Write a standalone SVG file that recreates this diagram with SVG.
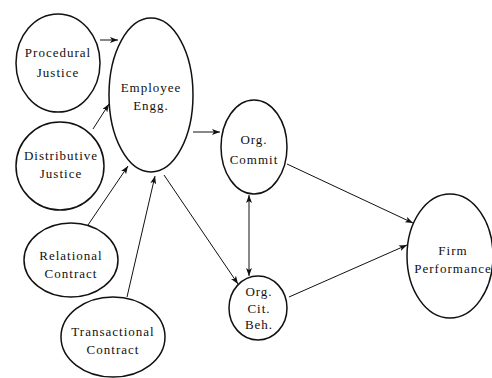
<svg xmlns="http://www.w3.org/2000/svg" width="492" height="378" viewBox="0 0 492 378">
<style>
.n ellipse{fill:#fff;stroke:#111;stroke-width:1.5}
.n text{font-family:"Liberation Serif","Times New Roman",serif;font-size:13px;letter-spacing:1px;fill:#111;text-anchor:middle}
#edges line{stroke:#111;stroke-width:1;fill:none}
</style>
<defs>
<marker id="ah" viewBox="0 0 8 6" refX="8" refY="3" markerWidth="8" markerHeight="6" markerUnits="userSpaceOnUse" orient="auto-start-reverse">
<path d="M0,0 L8,3 L0,6 L2,3 Z" fill="#111"/>
</marker>
</defs>
<rect width="492" height="378" fill="#fff"/>
<g id="edges">
<line x1="100" y1="40" x2="118" y2="40" marker-end="url(#ah)"/>
<line x1="93" y1="129" x2="109" y2="104" marker-end="url(#ah)"/>
<line x1="88" y1="225" x2="128" y2="166" marker-end="url(#ah)"/>
<line x1="127" y1="297" x2="155" y2="176" marker-end="url(#ah)"/>
<line x1="193" y1="132" x2="220" y2="132" marker-end="url(#ah)"/>
<line x1="164" y1="175" x2="238" y2="284" marker-end="url(#ah)"/>
<line x1="249" y1="195" x2="249" y2="276" marker-start="url(#ah)" marker-end="url(#ah)"/>
<line x1="287" y1="164" x2="413" y2="223" marker-end="url(#ah)"/>
<line x1="289" y1="297" x2="407" y2="245" marker-end="url(#ah)"/>
</g>
<g id="procedural" class="n"><ellipse cx="58" cy="63" rx="42" ry="49"/><text x="58" y="57">Procedural</text><text x="58" y="77">Justice</text></g>
<g id="employee" class="n"><ellipse cx="151" cy="95" rx="42" ry="77"/><text x="151" y="92">Employee</text><text x="151" y="110">Engg.</text></g>
<g id="distributive" class="n"><ellipse cx="60" cy="166" rx="44" ry="44"/><text x="61" y="160">Distributive</text><text x="61" y="178">Justice</text></g>
<g id="relational" class="n"><ellipse cx="71" cy="260" rx="47" ry="37"/><text x="71" y="260">Relational</text><text x="71" y="278">Contract</text></g>
<g id="transactional" class="n"><ellipse cx="113" cy="337" rx="52" ry="40"/><text x="113" y="336">Transactional</text><text x="113" y="354">Contract</text></g>
<g id="commit" class="n"><ellipse cx="254" cy="147" rx="33" ry="47"/><text x="254" y="144">Org.</text><text x="254" y="164">Commit</text></g>
<g id="ocb" class="n"><ellipse cx="258" cy="308" rx="29" ry="32"/><text x="259" y="296">Org.</text><text x="259" y="313">Cit.</text><text x="259" y="329">Beh.</text></g>
<g id="firm" class="n"><ellipse cx="450" cy="256" rx="43" ry="62"/><text x="453" y="255">Firm</text><text x="453" y="273">Performance</text></g>
</svg>
